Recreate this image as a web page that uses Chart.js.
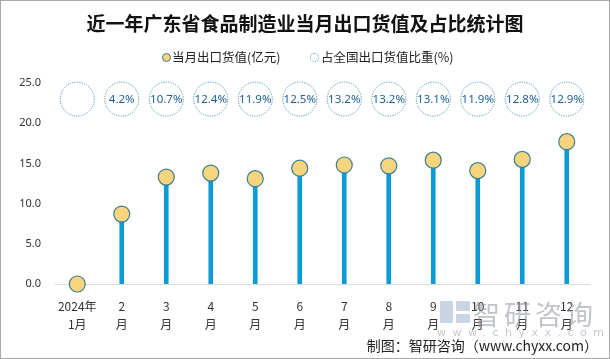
<!DOCTYPE html>
<html>
<head>
<meta charset="utf-8">
<script src="https://cdn.jsdelivr.net/npm/chart.js@4/dist/chart.umd.min.js"></script>
<style>
    html, body { margin: 0; padding: 0; background: #fff; }
    #wrap { position: relative; width: 610px; height: 359px; overflow: hidden; font-family: "Noto Sans CJK SC", sans-serif; }
    #chart { position: absolute; left: 0; top: 0; }
    #frame { position: absolute; left: 0; top: 0; width: 608px; height: 357px; border: 1px solid #a8a8a8; pointer-events: none; }
    #title { position: absolute; left: 0; width: 610px; top: 9px; text-align: center; font-size: 19px; font-weight: bold; color: #111; line-height: 28px; }
    .legend { position: absolute; top: 48px; font-size: 12.5px; color: #222; line-height: 18px; }
    .mark { position: absolute; top: 5px; width: 7px; height: 7px; border-radius: 50%; }
    #source { position: absolute; right: 12px; top: 335px; font-size: 14px; color: #222; }
    #wm { position: absolute; left: 473px; top: 294px; font-size: 27px; letter-spacing: 4px; color: rgba(140,145,155,0.55); }
    #wmurl { position: absolute; left: 437px; top: 326px; font-size: 11px; letter-spacing: 6.5px; color: rgba(140,145,155,0.5); font-family: "DejaVu Sans", sans-serif; }
    .logo { position: absolute; background: rgba(150,172,200,0.5); }
</style>
</head>
<body>
<div id="wrap">
    <canvas id="chart" width="610" height="359"></canvas>
    <div id="title">近一年广东省食品制造业当月出口货值及占比统计图</div>
    <div class="legend" style="left:172px;"><span class="mark" style="left:-10px;background:#f7d47e;border:1px solid #3a7d8f;"></span>当月出口货值(亿元)</div>
    <div class="legend" style="left:321px;"><span class="mark" style="left:-11px;border:1px dotted #5d9fb4;"></span>占全国出口货值比重(%)</div>
    <div class="logo" style="left:440px;top:301px;width:13px;height:22px;"></div>
    <div class="logo" style="left:456px;top:301px;width:14px;height:10px;"></div>
    <div class="logo" style="left:456px;top:314px;width:14px;height:9px;"></div>
    <div id="wm">智研咨询</div>
    <div id="wmurl">www.chyxx.com</div>
    <div id="source">制图：智研咨询（www.chyxx.com）</div>
    <div id="frame"></div>
</div>
<script>
// months on the x axis (two-line labels)
const months = [['2024年', '1月'], ['2', '月'], ['3', '月'], ['4', '月'], ['5', '月'], ['6', '月'],
    ['7', '月'], ['8', '月'], ['9', '月'], ['10', '月'], ['11', '月'], ['12', '月']];
// export value, 100 million yuan
const exportValue = [0, 8.7, 13.3, 13.8, 13.1, 14.4, 14.8, 14.7, 15.4, 14.1, 15.5, 17.7];
// share of national export value, %
const sharePct = [null, 4.2, 10.7, 12.4, 11.9, 12.5, 13.2, 13.2, 13.1, 11.9, 12.8, 12.9];
const yTicks = [0, 5, 10, 15, 20, 25];
const bubbleLevel = 23.0;

// dotted circles with the share labels, placed through the chart scales
const shareBubbles = {
    id: 'shareBubbles',
    afterDatasetsDraw(chart) {
        const ctx = chart.ctx;
        const x = chart.scales.x;
        const y = chart.scales.y;
        const cy = y.getPixelForValue(bubbleLevel);
        ctx.save();
        sharePct.forEach((v, i) => {
            const cx = x.getPixelForValue(i);
            ctx.beginPath();
            ctx.setLineDash([1.2, 1.2]);
            ctx.lineWidth = 1;
            ctx.strokeStyle = '#4f93aa';
            ctx.arc(cx, cy, 17, 0, Math.PI * 2);
            ctx.stroke();
            if (v !== null) {
                ctx.setLineDash([]);
                ctx.fillStyle = '#1b5f98';
                ctx.font = '11.5px "Noto Sans", sans-serif';
                ctx.textAlign = 'center';
                ctx.textBaseline = 'middle';
                ctx.fillText(v.toFixed(1) + '%', cx, cy + 1);
            }
        });
        ctx.restore();
    }
};

new Chart(document.getElementById('chart').getContext('2d'), {
    data: {
        labels: months,
        datasets: [
            {
                type: 'line',
                label: '当月出口货值(亿元)',
                data: exportValue,
                showLine: false,
                pointRadius: 8,
                pointHoverRadius: 8,
                pointBackgroundColor: '#f7d47e',
                pointBorderColor: '#3a7d8f',
                pointBorderWidth: 1.2,
                clip: false,
                order: 1
            },
            {
                type: 'bar',
                label: 'stem',
                data: exportValue,
                backgroundColor: '#0d9bd8',
                barThickness: 4,
                order: 2
            }
        ]
    },
    options: {
        responsive: false,
        animation: false,
        layout: { padding: { top: 83, right: 21, bottom: 0, left: 0 } },
        plugins: {
            legend: { display: false },
            title: { display: false },
            tooltip: { enabled: false }
        },
        scales: {
            x: {
                grid: { display: false },
                border: { display: true, color: '#d9d9d9', width: 1 },
                ticks: {
                    color: '#333',
                    font: { size: 12, family: '"Noto Sans CJK SC", sans-serif', lineHeight: 1.55 },
                    padding: 5,
                    maxRotation: 0,
                    autoSkip: false
                },
                afterFit(scale) { scale.height = 75; }
            },
            y: {
                min: 0,
                max: 25,
                afterBuildTicks(scale) { scale.ticks = yTicks.map(v => ({ value: v })); },
                grid: { display: false, drawTicks: false },
                border: { display: false },
                ticks: {
                    color: '#333',
                    font: { size: 11, family: '"Noto Sans", sans-serif' },
                    padding: 14,
                    callback: v => v.toFixed(1)
                },
                afterFit(scale) { scale.width = 55; }
            }
        }
    },
    plugins: [shareBubbles]
});
</script>
</body>
</html>
